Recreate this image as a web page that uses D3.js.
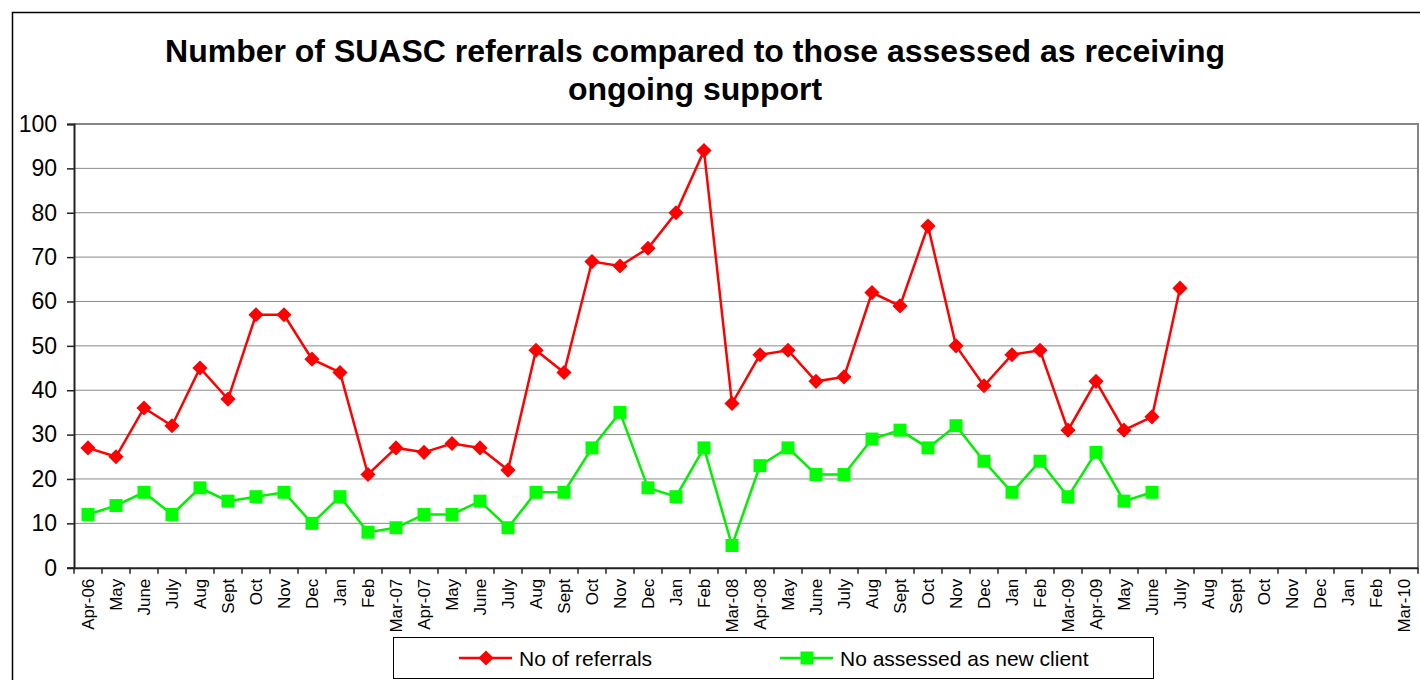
<!DOCTYPE html>
<html>
<head>
<meta charset="utf-8">
<script src="https://cdn.jsdelivr.net/npm/d3@7"></script>
<style>
    body { margin: 0; background: #fff; }
    svg { display: block; font-family: "Liberation Sans", Arial, sans-serif; }
</style>
</head>
<body>
<div id="chart"></div>
<script>
// month labels along the bottom (one per column)
const months = ["Apr-06", "May", "June", "July", "Aug", "Sept", "Oct", "Nov", "Dec", "Jan", "Feb", "Mar-07",
    "Apr-07", "May", "June", "July", "Aug", "Sept", "Oct", "Nov", "Dec", "Jan", "Feb", "Mar-08",
    "Apr-08", "May", "June", "July", "Aug", "Sept", "Oct", "Nov", "Dec", "Jan", "Feb", "Mar-09",
    "Apr-09", "May", "June", "July", "Aug", "Sept", "Oct", "Nov", "Dec", "Jan", "Feb", "Mar-10"];

// No of referrals (Apr-06 .. July-09)
const referrals = [27, 25, 36, 32, 45, 38, 57, 57, 47, 44, 21, 27,
    26, 28, 27, 22, 49, 44, 69, 68, 72, 80, 94, 37,
    48, 49, 42, 43, 62, 59, 77, 50, 41, 48, 49, 31,
    42, 31, 34, 63];

// No assessed as new client (Apr-06 .. June-09)
const assessed = [12, 14, 17, 12, 18, 15, 16, 17, 10, 16, 8, 9,
    12, 12, 15, 9, 17, 17, 27, 35, 18, 16, 27, 5,
    23, 27, 21, 21, 29, 31, 27, 32, 24, 17, 24, 16,
    26, 15, 17];

const yTicks = [0, 10, 20, 30, 40, 50, 60, 70, 80, 90, 100];

const titleLines = ["Number of SUASC referrals compared to those assessed as receiving", "ongoing support"];
const seriesNames = ["No of referrals", "No assessed as new client"];

const W = 1420, H = 680;
const plot = { left: 74, right: 1418, top: 124, bottom: 567.7 };

const svg = d3.select("#chart").append("svg")
    .attr("width", W)
    .attr("height", H);

// outer chart frame
svg.append("rect")
    .attr("x", 12.5).attr("y", 12.5)
    .attr("width", W).attr("height", H)
    .attr("fill", "none")
    .attr("stroke", "#000")
    .attr("stroke-width", 1.5);

// title
svg.append("text")
    .attr("text-anchor", "middle")
    .attr("font-size", "32px")
    .attr("font-weight", "bold")
    .selectAll("tspan")
    .data(titleLines)
    .enter()
    .append("tspan")
    .attr("x", 695)
    .attr("y", (d, i) => 62 + i * 38)
    .text(d => d);

let x = d3.scaleBand()
    .domain(d3.range(months.length))
    .range([plot.left, plot.right]);

let y = d3.scaleLinear()
    .domain([0, 100])
    .range([plot.bottom, plot.top]);

// gridlines
svg.append("g")
    .selectAll("line")
    .data(yTicks.filter(d => d > 0 && d < 100))
    .enter()
    .append("line")
    .attr("x1", plot.left).attr("x2", plot.right)
    .attr("y1", d => y(d)).attr("y2", d => y(d))
    .attr("stroke", "#8a8a8a")
    .attr("stroke-width", 1);

// plot area border (top and right grey)
svg.append("path")
    .attr("d", `M${plot.left},${y(100)}H${plot.right}V${plot.bottom}`)
    .attr("fill", "none")
    .attr("stroke", "#858585")
    .attr("stroke-width", 2);

// y axis
let yAxis = d3.axisLeft(y).tickValues(yTicks).tickSize(7).tickPadding(10);
let gy = svg.append("g")
    .attr("transform", `translate(${plot.left},0)`)
    .call(yAxis);
gy.select(".domain").attr("stroke", "#222").attr("stroke-width", 2);
gy.selectAll(".tick line").attr("stroke", "#222").attr("stroke-width", 1.5);
gy.selectAll("text")
    .attr("font-family", "Liberation Sans, Arial, sans-serif")
    .attr("font-size", "23px")
    .attr("fill", "#000");

// x axis (labels at band centres, ticks between categories)
let xAxis = d3.axisBottom(x).tickFormat(i => months[i]).tickSize(0).tickPadding(0);
let gx = svg.append("g")
    .attr("transform", `translate(0,${plot.bottom})`)
    .call(xAxis);
gx.select(".domain").attr("stroke", "#222").attr("stroke-width", 2);
gx.selectAll("text")
    .attr("font-family", "Liberation Sans, Arial, sans-serif")
    .attr("font-size", "17px")
    .attr("fill", "#000")
    .attr("text-anchor", "end")
    .attr("dy", "0.35em")
    .attr("transform", "translate(0,11) rotate(-90)");

gx.selectAll(".cat-tick")
    .data(d3.range(months.length + 1))
    .enter()
    .append("line")
    .attr("class", "cat-tick")
    .attr("x1", i => i < months.length ? x(i) : x(months.length - 1) + x.bandwidth())
    .attr("x2", i => i < months.length ? x(i) : x(months.length - 1) + x.bandwidth())
    .attr("y1", 0).attr("y2", 6)
    .attr("stroke", "#222")
    .attr("stroke-width", 1.5);

const cx = i => x(i) + x.bandwidth() / 2;

let line = d3.line()
    .x((d, i) => cx(i))
    .y(d => y(d));

// referrals series
svg.append("path")
    .datum(referrals)
    .attr("d", line)
    .attr("fill", "none")
    .attr("stroke", "#ff0000")
    .attr("stroke-width", 2.5);

// diamond = square turned 45 degrees
let diamond = d3.symbol().type(d3.symbolSquare).size(115);
svg.append("g")
    .selectAll("path")
    .data(referrals)
    .enter()
    .append("path")
    .attr("d", diamond)
    .attr("transform", (d, i) => `translate(${cx(i)},${y(d)}) rotate(45)`)
    .attr("fill", "#ff0000");

// assessed series
svg.append("path")
    .datum(assessed)
    .attr("d", line)
    .attr("fill", "none")
    .attr("stroke", "#00f000")
    .attr("stroke-width", 2.5);

svg.append("g")
    .selectAll("rect")
    .data(assessed)
    .enter()
    .append("rect")
    .attr("x", (d, i) => cx(i) - 6.5)
    .attr("y", d => y(d) - 6.5)
    .attr("width", 13)
    .attr("height", 13)
    .attr("fill", "#00ff00");

// legend
let legend = svg.append("g");
legend.append("rect")
    .attr("x", 393.5).attr("y", 637.5)
    .attr("width", 760).attr("height", 41)
    .attr("fill", "#fff")
    .attr("stroke", "#000")
    .attr("stroke-width", 1);

const legendItems = [
    { name: seriesNames[0], color: "#ff0000", x: 459, shape: "diamond" },
    { name: seriesNames[1], color: "#00f000", x: 780, shape: "square" }
];

legendItems.forEach(item => {
    let g = legend.append("g").attr("transform", `translate(${item.x},658)`);
    g.append("line")
        .attr("x1", 0).attr("x2", 53)
        .attr("stroke", item.color)
        .attr("stroke-width", 2.5);
    if (item.shape === "diamond") {
        g.append("path")
            .attr("d", diamond)
            .attr("transform", "translate(27,0) rotate(45)")
            .attr("fill", item.color);
    } else {
        g.append("rect")
            .attr("x", 20.5).attr("y", -6.5)
            .attr("width", 13).attr("height", 13)
            .attr("fill", "#00ff00");
    }
    g.append("text")
        .attr("x", 60)
        .attr("y", 7.5)
        .attr("font-size", "21px")
        .text(item.name);
});
</script>
</body>
</html>
